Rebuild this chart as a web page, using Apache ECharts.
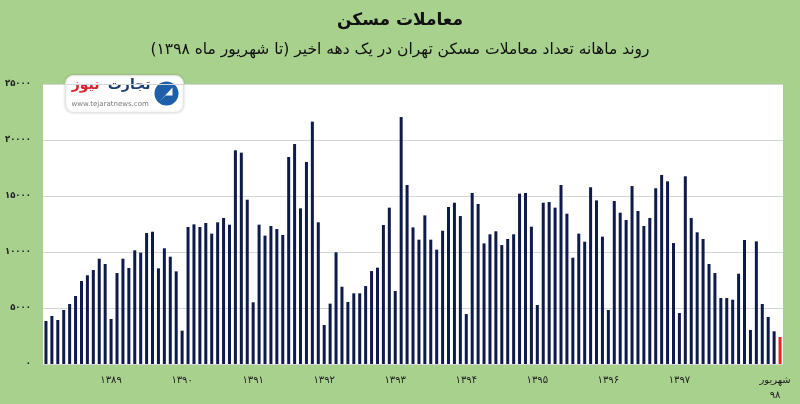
<!DOCTYPE html>
<html>
<head>
<meta charset="utf-8">
<script src="https://cdn.jsdelivr.net/npm/echarts@6/dist/echarts.min.js"></script>
<style>html,body{margin:0;padding:0;background:#a9d18e;}#c{width:800px;height:404px;}</style>
</head>
<body>
<div id="c"></div>
<script>
// Monthly housing transactions in Tehran, Ordibehesht 1388 .. Shahrivar 1398
const values = [
  3840, 4290, 3930, 4820, 5360, 6070, 7410, 7920, 8390, 9400, 8930,
  4020, 8125, 9400, 8570, 10150, 9940, 11700, 11810, 8540, 10330, 9580, 8270,
  2980, 12230, 12470, 12230, 12590, 11640, 12650, 13040, 12440, 19080, 18870, 14670,
  5510, 12440, 11460, 12320, 12050, 11520, 18480, 19640, 13900, 18040, 21640, 12650,
  3480, 5390, 9970, 6900, 5540, 6310, 6310, 6960, 8300, 8600, 12410, 13960,
  6520, 22050, 15980, 12200, 11100, 13270, 11100, 10210, 11900, 14020, 14400, 13210,
  4460, 15270, 14290, 10770, 11580, 11850, 10620, 11160, 11580, 15210, 15270, 12260,
  5270, 14400, 14460, 13960, 15980, 13420, 9490, 11640, 10920, 15780, 14610, 11370,
  4820, 14550, 13510, 12860, 15890, 13660, 12320, 13040, 15690, 16880, 16310, 10800,
  4550, 16760, 13040, 11760, 11160, 8930, 8125, 5890, 5890, 5740, 8060, 11070,
  3040, 10950, 5360, 4200, 2920, 2410
];
const yearLabels = ['۱۳۸۹', '۱۳۹۰', '۱۳۹۱', '۱۳۹۲', '۱۳۹۳', '۱۳۹۴', '۱۳۹۵', '۱۳۹۶', '۱۳۹۷'];
const lastLabel = 'شهریور\n۹۸';
const yTickLabels = ['۰', '۵۰۰۰', '۱۰۰۰۰', '۱۵۰۰۰', '۲۰۰۰۰', '۲۵۰۰۰'];
const titleText = 'معاملات مسکن';
const subtitleText = 'روند ماهانه تعداد معاملات مسکن تهران در یک دهه اخیر (تا شهریور ماه ۱۳۹۸)';

// categories: label at each Farvardin (index 11 + 12k), last month labelled
const categories = values.map((v, i) => {
  if (i === values.length - 1) return {value: lastLabel, textStyle: {padding: [0, 10, 0, 0]}};
  if (i >= 11 && (i - 11) % 12 === 0) return yearLabels[(i - 11) / 12] || '';
  return '';
});

const chart = echarts.init(document.getElementById('c'), null, {renderer: 'canvas'});
const FONT = 'DejaVu Sans';
chart.setOption({
  backgroundColor: '#a9d18e',
  animation: false,
  title: [
    {text: titleText, left: 'center', top: 7, textStyle: {fontFamily: FONT, fontSize: 17, fontWeight: 'bold', color: '#111'}},
    {text: subtitleText, left: 'center', top: 37, textStyle: {fontFamily: FONT, fontSize: 15.5, fontWeight: 'normal', color: '#111'}}
  ],
  grid: {left: 43, right: 17, top: 84, bottom: 40, show: true, backgroundColor: '#ffffff', borderWidth: 0,
    containLabel: false, outerBoundsMode: 'none'},
  xAxis: {
    type: 'category',
    data: categories,
    axisLine: {show: false},
    axisTick: {show: false},
    axisLabel: {interval: 0, margin: 9, fontFamily: FONT, fontSize: 10, color: '#222', lineHeight: 15}
  },
  yAxis: {
    type: 'value',
    min: 0, max: 25000, interval: 5000,
    axisLine: {show: false},
    axisTick: {show: false},
    splitLine: {lineStyle: {color: '#d6d6d6', width: 1}},
    axisLabel: {margin: 12, fontFamily: 'DejaVu Sans Condensed, DejaVu Sans', fontSize: 9.5, fontWeight: 'bold', color: '#222',
      formatter: (v) => yTickLabels[Math.round(v / 5000)]}
  },
  series: [{
    type: 'bar',
    barWidth: 3,
    data: values.map((v, i) => ({value: v, itemStyle: {color: i === values.length - 1 ? '#e8231f' : '#0e1a4c'}}))
  }],
  graphic: [{
    type: 'group', left: 65, top: 75,
    children: [
      {type: 'rect', shape: {x: 0, y: 0, width: 118, height: 37, r: 8}, style: {fill: '#ffffff', stroke: '#e4e4e4', lineWidth: 1, shadowBlur: 3, shadowColor: 'rgba(0,0,0,0.15)'}},
      {type: 'text', x: 34, y: 3, style: {text: 'نیوز', fill: '#d9232d', font: 'bold 14px "DejaVu Sans"', align: 'right'}},
      {type: 'text', x: 85, y: 3, style: {text: 'تجارت', fill: '#1d3d73', font: 'bold 14px "DejaVu Sans"', align: 'right'}},
      {type: 'text', x: 6, y: 25, style: {text: 'www.tejaratnews.com', fill: '#777', font: '7px "DejaVu Sans"'}},
      {type: 'circle', shape: {cx: 101, cy: 18, r: 12}, style: {fill: '#1d5fa8'}},
      {type: 'polygon', shape: {points: [[94, 26], [107, 12], [107, 20], [100, 20]]}, style: {fill: '#ffffff'}}
    ]
  }]
});
</script>
</body>
</html>
